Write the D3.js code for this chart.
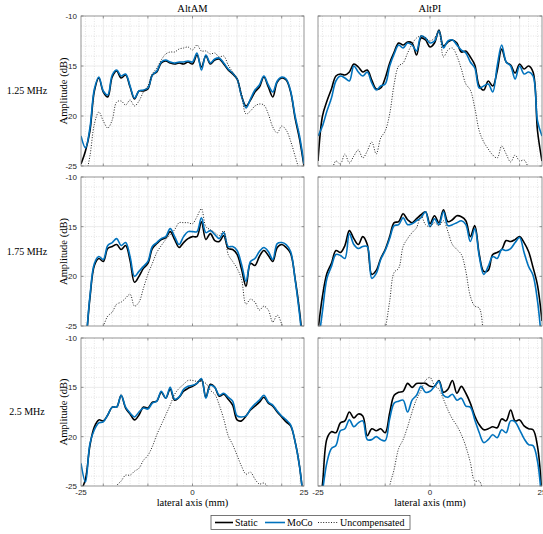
<!DOCTYPE html>
<html>
<head>
<meta charset="utf-8">
<script src="https://cdn.jsdelivr.net/npm/d3@7"></script>
<style>
  html, body { margin: 0; padding: 0; background: #fff; }
  svg { display: block; }
  .tick-label { font-family: "Liberation Sans", Arial, sans-serif; font-size: 8px; fill: #262626; }
  .tex { font-family: "Liberation Serif", "DejaVu Serif", serif; fill: #000; }
</style>
</head>
<body>
<svg id="chart" width="543" height="534"></svg>
<script>
// Lateral sample positions (mm)
const lateral = [-25,-24,-23,-22,-21,-20,-19,-18,-17,-16,-15,-14,-13,-12,-11,-10,-9,-8,-7,-6,-5,-4,-3,-2,-1,
  0,1,2,3,4,5,6,7,8,9,10,11,12,13,14,15,16,17,18,19,20,21,22,23,24,25];

const columns = ["AltAM", "AltPI"];
const rows = ["1.25 MHz", "1.75 MHz", "2.5 MHz"];
const seriesNames = ["Static", "MoCo", "Uncompensated"];
const yTicks = [-10, -15, -20, -25];
const xTickLabels = [-25, 0, 25];
const xMajor = [-20, -10, 0, 10, 20];

// AltAM, 1.25 MHz
const staticAM125 = [-24.8,-23.5,-21.5,-17.5,-16.2,-17.6,-18.1,-16.1,-15.5,-16.2,-15.9,-17.1,-18.3,-17.5,-17.5,-17.3,-15.9,-15.6,-14.7,-14.5,-14.7,-14.8,-14.7,-14.8,-14.6,
  -14.8,-13.9,-15.1,-14.0,-14.8,-14.4,-14.3,-14.8,-15.4,-15.8,-16.3,-18.0,-19.0,-18.4,-17.6,-17.1,-16.1,-17.1,-18.1,-16.6,-16.2,-16.4,-17.6,-20.2,-22.3,-25.0];
const mocoAM125 = [-22.0,-23.2,-21.2,-17.3,-16.1,-17.5,-17.9,-15.9,-15.4,-16.0,-15.8,-17.0,-18.2,-17.5,-17.4,-17.2,-15.9,-15.5,-14.6,-14.4,-14.6,-14.7,-14.6,-14.6,-14.5,
  -14.6,-13.7,-15.4,-13.9,-14.7,-14.3,-14.2,-14.7,-15.3,-15.7,-16.3,-18.0,-19.2,-18.3,-17.4,-16.9,-16.0,-16.9,-17.6,-16.5,-16.1,-16.3,-17.5,-20.0,-22.0,-24.8];
const uncompAM125 = [-27,-26,-24.0,-20.8,-19.6,-20.5,-21.2,-20.4,-18.6,-18.5,-18.9,-18.4,-19.0,-18.5,-17.6,-17.0,-15.8,-15.2,-14.4,-13.8,-13.6,-13.6,-13.3,-13.2,-13.1,
  -13.4,-12.9,-13.5,-13.5,-13.8,-13.7,-14.1,-14.0,-14.9,-15.6,-16.3,-17.8,-19.8,-19.5,-19.0,-18.8,-18.9,-19.8,-21.1,-21.7,-21.0,-21.4,-22.5,-24.0,-25.5,-27];

// AltPI, 1.25 MHz
const staticPI125 = [-24.5,-20.0,-18.5,-17.3,-16.0,-15.8,-15.9,-15.6,-14.8,-15.1,-15.6,-15.4,-16.4,-17.3,-17.2,-16.2,-14.7,-13.6,-12.7,-12.9,-12.6,-12.7,-13.9,-12.2,-12.4,
  -13.1,-12.7,-11.4,-13.0,-12.6,-12.4,-12.7,-13.6,-13.5,-14.1,-14.9,-17.0,-17.4,-16.5,-17.0,-15.5,-13.3,-14.6,-14.9,-15.7,-14.8,-15.3,-15.0,-15.6,-21.5,-24.5];
const mocoPI125 = [-22.0,-21.0,-19.5,-18.2,-16.5,-16.0,-16.2,-16.5,-15.0,-15.6,-16.0,-15.6,-16.7,-17.4,-17.0,-16.8,-15.0,-13.8,-12.9,-13.2,-12.7,-12.9,-13.5,-12.0,-12.2,
  -12.7,-12.5,-11.5,-13.2,-12.5,-12.4,-12.9,-13.4,-13.7,-14.6,-15.2,-17.2,-17.0,-16.8,-17.6,-15.0,-12.9,-14.6,-15.0,-16.3,-15.0,-15.8,-15.6,-16.0,-20.5,-22.0];
const uncompPI125 = [-27,-27,-26,-25.5,-24.5,-24.8,-23.8,-24.7,-24.0,-23.4,-24.2,-23.5,-22.6,-23.8,-22.2,-21.5,-19.8,-16.8,-15.0,-14.7,-13.7,-12.8,-12.2,-12.0,-12.2,
  -12.5,-12.2,-11.6,-14.1,-13.4,-13.2,-14.0,-15.3,-16.8,-17.4,-19.2,-21.5,-22.6,-23.3,-23.9,-24.2,-23.0,-23.8,-24.6,-23.9,-24.5,-24.4,-25.2,-26,-27,-27];

// AltAM, 1.75 MHz
const staticAM175 = [-30,-27,-22.2,-18.9,-18.2,-18.5,-17.2,-17.0,-16.8,-17.3,-16.9,-18.4,-20.6,-20.0,-19.2,-18.7,-17.2,-16.7,-16.3,-16.1,-15.5,-16.3,-17.1,-16.6,-16.2,
  -16.0,-16.0,-14.5,-16.3,-15.7,-16.4,-16.5,-15.9,-17.2,-17.3,-17.8,-19.3,-21.0,-18.7,-18.9,-18.0,-17.4,-17.9,-18.5,-17.1,-16.8,-17.1,-17.7,-20.2,-23.5,-28];
const mocoAM175 = [-30,-27,-22.0,-18.7,-18.0,-18.3,-16.9,-16.6,-16.2,-16.9,-16.6,-18.0,-20.0,-19.5,-19.0,-18.5,-17.0,-16.6,-16.2,-16.0,-15.2,-16.0,-16.8,-16.0,-15.5,
  -15.5,-15.5,-14.1,-15.6,-15.4,-15.8,-16.2,-15.6,-17.0,-17.0,-17.4,-18.8,-20.5,-18.5,-18.2,-17.5,-17.1,-17.5,-18.3,-16.7,-16.6,-16.8,-17.5,-20.3,-23.8,-28];
const uncompAM175 = [-28,-28,-27,-26.5,-25.8,-25.0,-24.0,-23.6,-22.8,-22.6,-22.2,-21.8,-23.0,-22.6,-21.2,-19.8,-18.7,-17.6,-16.9,-16.3,-15.8,-15.3,-14.6,-14.6,-14.6,
  -14.7,-14.0,-13.2,-15.0,-15.3,-15.6,-15.9,-15.4,-17.8,-18.5,-19.2,-20.3,-22.8,-22.3,-22.6,-23.4,-23.0,-23.4,-24.6,-23.9,-24.8,-26,-27,-28,-28,-28];

// AltPI, 1.75 MHz
const staticPI175 = [-25.5,-22.0,-19.7,-18.7,-17.4,-17.6,-16.9,-15.4,-16.2,-16.8,-16.0,-16.8,-19.8,-19.4,-18.2,-17.3,-16.0,-14.6,-14.5,-13.7,-14.3,-14.6,-14.2,-13.8,-13.5,
  -14.7,-13.9,-14.6,-13.3,-14.5,-14.3,-13.9,-14.0,-14.4,-16.0,-14.9,-17.8,-19.5,-19.4,-17.8,-17.6,-17.3,-16.4,-16.5,-16.3,-16.0,-16.6,-17.5,-19.1,-20.9,-24.5];
const mocoPI175 = [-27,-23.5,-20.2,-19.0,-17.8,-17.9,-18.2,-15.7,-16.8,-17.2,-17.0,-17.0,-20.2,-19.7,-18.3,-17.4,-16.2,-14.9,-14.8,-14.1,-14.8,-14.7,-14.4,-14.1,-13.5,
  -15.0,-14.2,-14.8,-13.5,-14.9,-14.8,-14.6,-14.4,-14.8,-16.5,-15.2,-18.0,-19.8,-19.0,-18.0,-18.2,-17.3,-17.4,-17.2,-16.6,-16.1,-17.6,-19.0,-19.9,-22.5,-27];
const uncompPI175 = [-28,-28,-28,-28,-28,-28,-28,-28,-28,-28,-28,-28,-28,-28,-27,-25.3,-22.5,-19.6,-19.2,-17.0,-16.2,-15.6,-15.1,-13.9,-14.8,
  -15.0,-14.6,-14.9,-14.4,-15.5,-16.8,-17.3,-17.8,-19.5,-22.0,-23.0,-23.2,-26,-28,-28,-28,-28,-28,-28,-28,-28,-28,-28,-28,-28,-28];

// AltAM, 2.5 MHz
const staticAM250 = [-25.5,-24.3,-20.9,-19.0,-18.3,-18.4,-17.8,-17.0,-17.0,-15.8,-17.1,-17.7,-18.3,-17.8,-17.0,-17.1,-16.5,-16.4,-15.5,-16.1,-15.2,-16.3,-16.0,-15.4,-15.1,
  -14.9,-14.6,-14.2,-16.0,-14.7,-15.0,-15.9,-15.7,-16.2,-16.8,-18.3,-18.4,-17.9,-17.3,-16.9,-16.5,-16.0,-16.6,-16.9,-17.5,-18.0,-18.5,-18.9,-20.5,-23.0,-27];
const mocoAM250 = [-22.7,-24.6,-20.7,-19.3,-18.6,-18.5,-17.8,-17.0,-17.0,-15.8,-17.0,-17.6,-18.0,-17.5,-17.1,-17.2,-16.6,-16.4,-15.4,-16.1,-15.0,-16.2,-16.0,-15.2,-14.9,
  -14.8,-14.6,-14.1,-16.1,-14.8,-15.0,-15.8,-15.6,-16.0,-16.4,-17.9,-18.0,-17.9,-17.2,-16.7,-16.3,-15.8,-16.5,-16.8,-17.4,-17.9,-18.3,-18.8,-20.5,-23.0,-27];
const uncompAM250 = [-28,-28,-28,-28,-28,-28,-28,-28,-25.0,-24.5,-23.9,-23.9,-23.5,-23.2,-22.4,-21.9,-21.0,-19.8,-18.8,-17.8,-16.8,-15.7,-15.1,-14.7,-14.3,
  -14.3,-14.4,-14.4,-14.6,-15.3,-15.7,-16.8,-18.2,-19.9,-20.8,-21.9,-23.0,-23.8,-23.6,-24.3,-24.8,-24.7,-25.2,-28,-28,-28,-28,-28,-28,-28,-28];

// AltPI, 2.5 MHz
const staticPI250 = [-28,-24.8,-20.2,-19.5,-19.6,-18.6,-18.4,-17.5,-18.1,-17.7,-17.9,-19.9,-19.2,-19.4,-19.2,-19.6,-17.6,-15.8,-15.5,-15.4,-14.6,-15.0,-14.6,-14.6,-14.6,
  -14.9,-14.9,-14.3,-15.5,-15.2,-14.3,-15.6,-14.9,-15.6,-16.6,-17.9,-18.8,-19.3,-19.2,-19.0,-19.1,-18.2,-18.4,-17.3,-18.4,-18.3,-18.9,-19.2,-19.3,-21.0,-26];
const mocoPI250 = [-28,-25.5,-22.6,-21.2,-20.9,-19.4,-19.2,-18.3,-19.0,-18.6,-18.4,-20.3,-20.3,-20.0,-20.3,-20.4,-18.2,-16.6,-16.4,-16.3,-17.5,-16.3,-15.8,-14.9,-15.5,
  -15.4,-14.9,-14.4,-15.8,-16.0,-15.7,-16.3,-16.1,-16.9,-17.0,-18.3,-19.6,-20.6,-20.3,-19.8,-20.1,-19.3,-19.6,-18.4,-18.5,-19.3,-20.2,-20.8,-20.9,-22.5,-27];
const uncompPI250 = [-28,-28,-28,-28,-28,-28,-28,-28,-28,-28,-28,-28,-28,-28,-28,-28,-25.0,-23.3,-21.2,-20.3,-19.0,-17.5,-16.2,-15.3,-14.3,
  -14.0,-14.8,-15.2,-16.2,-17.3,-18.2,-18.9,-19.8,-21.0,-22.6,-24.5,-24.5,-26,-28,-28,-28,-28,-28,-28,-28,-28,-28,-28,-28,-28,-28];

// Panel table: [row][column] -> [Static, MoCo, Uncompensated]
const panelData = [
  [[staticAM125, mocoAM125, uncompAM125], [staticPI125, mocoPI125, uncompPI125]],
  [[staticAM175, mocoAM175, uncompAM175], [staticPI175, mocoPI175, uncompPI175]],
  [[staticAM250, mocoAM250, uncompAM250], [staticPI250, mocoPI250, uncompPI250]]
];

const colExtent = [[81, 304], [318, 542]];
const rowExtent = [[16, 166], [177, 326], [338, 486]];
const styles = [
  { stroke: "#000000", width: 1.6, dash: null },
  { stroke: "#0072BD", width: 1.6, dash: null },
  { stroke: "#222222", width: 1.0, dash: "1,1.6" }
];

const svg = d3.select("#chart");
const defs = svg.append("defs");

rows.forEach((rowLabel, r) => {
  columns.forEach((colLabel, c) => {
    const [x0, x1] = colExtent[c];
    const [y0, y1] = rowExtent[r];
    const x = d3.scaleLinear().domain([-25, 25]).range([x0, x1]);
    const y = d3.scaleLinear().domain([-25, -10]).range([y1, y0]);
    const g = svg.append("g");
    const clipId = `clip-${r}-${c}`;
    defs.append("clipPath").attr("id", clipId)
      .append("rect").attr("x", x0).attr("y", y0).attr("width", x1 - x0).attr("height", y1 - y0);

    // minor grid
    const minorX = d3.range(-24, 25, 2).filter(v => v % 10 !== 0);
    const minorY = d3.range(-24, -10, 1).filter(v => v % 5 !== 0);
    g.selectAll(".mx").data(minorX).join("line")
      .attr("x1", d => x(d)).attr("x2", d => x(d)).attr("y1", y0).attr("y2", y1)
      .attr("stroke", "#d4d4d4").attr("stroke-width", 0.6).attr("stroke-dasharray", "1,1.5");
    g.selectAll(".my").data(minorY).join("line")
      .attr("x1", x0).attr("x2", x1).attr("y1", d => y(d)).attr("y2", d => y(d))
      .attr("stroke", "#d4d4d4").attr("stroke-width", 0.6).attr("stroke-dasharray", "1,1.5");
    // major grid
    g.selectAll(".gx").data(xMajor).join("line")
      .attr("x1", d => x(d)).attr("x2", d => x(d)).attr("y1", y0).attr("y2", y1)
      .attr("stroke", "#e2e2e2").attr("stroke-width", 0.7);
    g.selectAll(".gy").data([-15, -20]).join("line")
      .attr("x1", x0).attr("x2", x1).attr("y1", d => y(d)).attr("y2", d => y(d))
      .attr("stroke", "#e2e2e2").attr("stroke-width", 0.7);

    // data lines
    const line = d3.line()
      .x((d, i) => x(lateral[i]))
      .y(d => y(d))
      .curve(d3.curveCatmullRom.alpha(0.5));
    const plot = g.append("g").attr("clip-path", `url(#${clipId})`);
    panelData[r][c].forEach((vals, s) => {
      plot.append("path")
        .datum(vals)
        .attr("d", line)
        .attr("fill", "none")
        .attr("stroke", styles[s].stroke)
        .attr("stroke-width", styles[s].width)
        .attr("stroke-linejoin", "round")
        .attr("stroke-dasharray", styles[s].dash);
    });

    // frame and ticks
    g.append("rect").attr("x", x0).attr("y", y0).attr("width", x1 - x0).attr("height", y1 - y0)
      .attr("fill", "none").attr("stroke", "#7a7a7a").attr("stroke-width", 0.8);
    xMajor.forEach(v => {
      g.append("line").attr("x1", x(v)).attr("x2", x(v)).attr("y1", y0).attr("y2", y0 + 2.5)
        .attr("stroke", "#7a7a7a").attr("stroke-width", 0.8);
      g.append("line").attr("x1", x(v)).attr("x2", x(v)).attr("y1", y1).attr("y2", y1 - 2.5)
        .attr("stroke", "#7a7a7a").attr("stroke-width", 0.8);
    });
    yTicks.forEach(v => {
      g.append("line").attr("x1", x0).attr("x2", x0 + 2.5).attr("y1", y(v)).attr("y2", y(v))
        .attr("stroke", "#7a7a7a").attr("stroke-width", 0.8);
      g.append("line").attr("x1", x1).attr("x2", x1 - 2.5).attr("y1", y(v)).attr("y2", y(v))
        .attr("stroke", "#7a7a7a").attr("stroke-width", 0.8);
    });

    if (c === 0) {
      yTicks.forEach(v => {
        g.append("text").attr("class", "tick-label")
          .attr("x", x0 - 4).attr("y", y(v) + 3)
          .attr("text-anchor", "end").text(v);
      });
      g.append("text").attr("class", "tex")
        .attr("transform", `translate(${x0 - 14},${(y0 + y1) / 2}) rotate(-90)`)
        .attr("text-anchor", "middle").attr("font-size", 10.5)
        .text("Amplitude (dB)");
      svg.append("text").attr("class", "tex")
        .attr("x", 27).attr("y", (y0 + y1) / 2 + 3)
        .attr("text-anchor", "middle").attr("font-size", 10)
        .text(rowLabel);
    }
    if (r === 0) {
      svg.append("text").attr("class", "tex")
        .attr("x", (x0 + x1) / 2).attr("y", y0 - 4)
        .attr("text-anchor", "middle").attr("font-size", 10.5)
        .text(colLabel);
    }
    if (r === rows.length - 1) {
      xTickLabels.forEach(v => {
        g.append("text").attr("class", "tick-label")
          .attr("x", x(v)).attr("y", y1 + 8.5)
          .attr("text-anchor", "middle").text(v);
      });
      g.append("text").attr("class", "tex")
        .attr("x", (x0 + x1) / 2).attr("y", y1 + 19.5)
        .attr("text-anchor", "middle").attr("font-size", 10.5)
        .text("lateral axis (mm)");
    }
  });
});

// legend
const legend = svg.append("g");
legend.append("rect").attr("x", 211).attr("y", 515.5).attr("width", 199).attr("height", 14)
  .attr("fill", "#fff").attr("stroke", "#555").attr("stroke-width", 0.8);
const legendItems = [
  { lx: 215, len: 18, tx: 235 },
  { lx: 265, len: 20, tx: 287 },
  { lx: 318, len: 20, tx: 340 }
];
seriesNames.forEach((name, s) => {
  const it = legendItems[s];
  legend.append("line").attr("x1", it.lx).attr("x2", it.lx + it.len)
    .attr("y1", 522.5).attr("y2", 522.5)
    .attr("stroke", styles[s].stroke).attr("stroke-width", styles[s].width)
    .attr("stroke-dasharray", styles[s].dash);
  legend.append("text").attr("class", "tex").attr("x", it.tx).attr("y", 526)
    .attr("font-size", 10).text(name);
});
</script>
</body>
</html>
